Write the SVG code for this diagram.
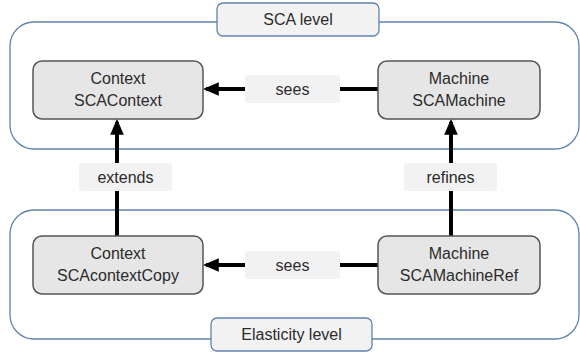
<svg xmlns="http://www.w3.org/2000/svg" width="580" height="352" viewBox="0 0 580 352">
<style>
text{font-family:"Liberation Sans",Arial,sans-serif;font-size:16px;fill:#2b2b2b;text-anchor:middle}
.cont{fill:#fff;stroke:#5f83ad;stroke-width:1.3}
.lvl{fill:#f2f2f2;stroke:#5f83ad;stroke-width:1.3}
.node{fill:#e6e6e6;stroke:#555;stroke-width:1.5}
.lab{fill:#f2f2f2;stroke:none}
.c{stroke:#000;stroke-width:4;fill:none}
</style>
<defs>
<marker id="ah" markerWidth="4" markerHeight="3.4" refX="3.2" refY="1.7" orient="auto" markerUnits="strokeWidth">
<path d="M0,0 L4,1.7 L0,3.4 z" fill="#000"/>
</marker>
</defs>
<rect x="0" y="0" width="580" height="352" fill="#fff"/>
<g id="sca-level-container">
<rect class="cont" x="10" y="22" width="569" height="127" rx="24"/>
<rect class="lvl" x="217" y="3" width="162" height="33" rx="6"/>
<text x="298" y="25">SCA level</text>
</g>
<g id="elasticity-level-container">
<rect class="cont" x="10" y="210" width="569" height="129" rx="24"/>
<rect class="lvl" x="211" y="318" width="161" height="33" rx="6"/>
<text x="291.5" y="340">Elasticity level</text>
</g>
<g id="connectors">
<line class="c" x1="378" y1="89" x2="340" y2="89"/>
<line class="c" x1="245" y1="89" x2="206" y2="89" marker-end="url(#ah)"/>
<line class="c" x1="378" y1="265" x2="340" y2="265"/>
<line class="c" x1="245" y1="265" x2="206" y2="265" marker-end="url(#ah)"/>
<line class="c" x1="117" y1="236" x2="117" y2="191"/>
<line class="c" x1="117" y1="163" x2="117" y2="122" marker-end="url(#ah)"/>
<line class="c" x1="451" y1="236" x2="451" y2="191"/>
<line class="c" x1="451" y1="163" x2="451" y2="122" marker-end="url(#ah)"/>
<rect class="lab" x="245" y="75" width="95" height="28" rx="3"/>
<text x="292.5" y="95">sees</text>
<rect class="lab" x="245" y="251" width="95" height="28" rx="3"/>
<text x="292.5" y="271">sees</text>
<rect class="lab" x="79" y="163" width="93" height="28" rx="3"/>
<text x="125.5" y="183">extends</text>
<rect class="lab" x="404" y="163" width="93" height="28" rx="3"/>
<text x="450.5" y="183">refines</text>
</g>
<g id="context-sca">
<rect class="node" x="33" y="61" width="170" height="58" rx="9"/>
<text x="118" y="84">Context</text>
<text x="118" y="106">SCAContext</text>
</g>
<g id="machine-sca">
<rect class="node" x="378" y="61" width="162" height="58" rx="9"/>
<text x="459" y="84">Machine</text>
<text x="459" y="106">SCAMachine</text>
</g>
<g id="context-copy">
<rect class="node" x="33" y="236" width="170" height="58" rx="9"/>
<text x="118" y="259">Context</text>
<text x="118" y="281">SCAcontextCopy</text>
</g>
<g id="machine-ref">
<rect class="node" x="378" y="236" width="162" height="58" rx="9"/>
<text x="459" y="259">Machine</text>
<text x="459" y="281">SCAMachineRef</text>
</g>
</svg>
